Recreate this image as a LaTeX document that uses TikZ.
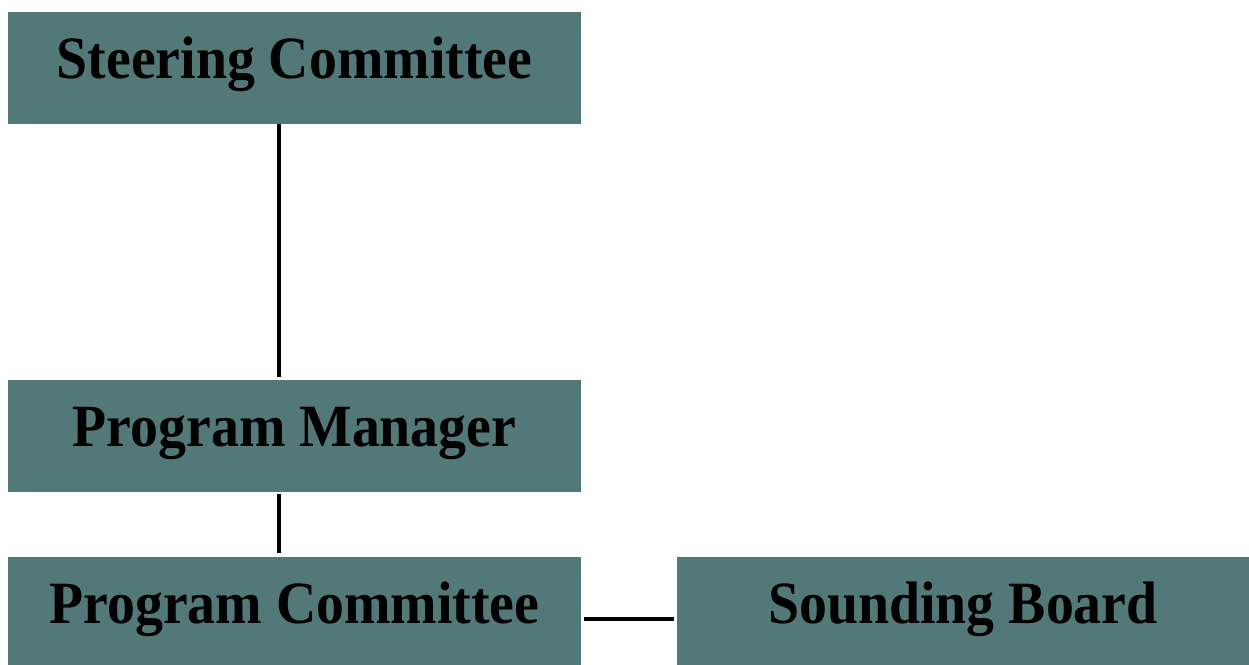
\documentclass[tikz,border=0pt]{standalone}
\usepackage{graphicx}
\usepackage{fontspec}
\setmainfont{Liberation Serif}
\definecolor{boxteal}{RGB}{83,120,120}
\newcommand{\narrowtxt}[1]{\scalebox{0.93}[1]{#1}}
\begin{document}
\begin{tikzpicture}[x=1pt,y=-1pt,
  orgbox/.style={fill=boxteal,draw=none,inner sep=0pt,text height=40pt,text depth=20pt,
    minimum width=573pt,minimum height=112pt,
    font=\fontsize{60}{66}\selectfont\bfseries,text=black},
  vlink/.style={line width=3.2pt,black},
  hlink/.style={line width=4pt,black}]
\useasboundingbox (0,0) rectangle (1249,664);
\node[orgbox] (sc) at (294.5,68) {\narrowtxt{Steering Committee}};
\node[orgbox] (pm) at (294.5,436) {\narrowtxt{Program Manager}};
\node[orgbox] (pc) at (294.5,613) {\narrowtxt{Program Committee}};
\node[orgbox,minimum width=572pt] (sb) at (963,613) {\narrowtxt{Sounding Board}};
\draw[vlink] ([xshift=-15.5pt]sc.south) -- ([xshift=-15.5pt,yshift=3pt]pm.north);
\draw[vlink] ([xshift=-15.5pt,yshift=-2pt]pm.south) -- ([xshift=-15.5pt,yshift=4pt]pc.north);
\draw[hlink] ([xshift=3pt,yshift=-6pt]pc.east) -- ([xshift=-3pt,yshift=-6pt]sb.west);
\end{tikzpicture}
\end{document}
